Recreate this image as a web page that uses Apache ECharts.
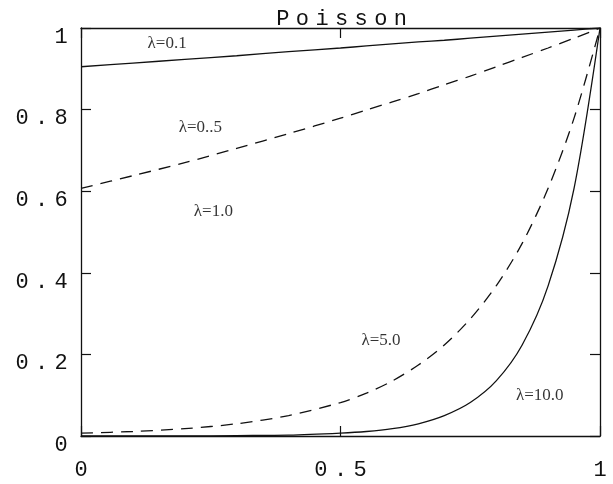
<!DOCTYPE html>
<html>
<head>
<meta charset="utf-8">
<script src="https://cdn.jsdelivr.net/npm/echarts@6/dist/echarts.min.js"></script>
<style>html,body{margin:0;padding:0;background:#fff}#c{width:613px;height:484px}</style>
</head>
<body>
<div id="c"></div>
<script>
// x positions (s) shared by all curves
const sValues = [0, 0.1, 0.2, 0.3, 0.4, 0.5, 0.55, 0.6, 0.65, 0.7, 0.75, 0.8, 0.85, 0.9, 0.95, 1];
// curve values
const lambda01 = [0.905, 0.914, 0.923, 0.932, 0.942, 0.951, 0.956, 0.961, 0.966, 0.970, 0.975, 0.980, 0.985, 0.990, 0.995, 1];
const lambda05 = [0.607, 0.638, 0.670, 0.705, 0.741, 0.779, 0.799, 0.819, 0.839, 0.861, 0.882, 0.905, 0.928, 0.951, 0.975, 1];
const lambda5  = [0.007, 0.011, 0.018, 0.030, 0.050, 0.082, 0.105, 0.135, 0.174, 0.223, 0.287, 0.368, 0.472, 0.607, 0.779, 1];
const lambda10 = [0.000, 0.000, 0.000, 0.001, 0.002, 0.007, 0.011, 0.018, 0.030, 0.050, 0.082, 0.135, 0.223, 0.368, 0.607, 1];
const seriesNames = ['λ=0.1', 'λ=0..5', 'λ=5.0', 'λ=10.0'];
// curve annotations: text, x, y (data coordinates)
const annoText = ['λ=0.1', 'λ=0..5', 'λ=1.0', 'λ=5.0', 'λ=10.0'];
const annoX = [0.166, 0.230, 0.255, 0.578, 0.884];
const annoY = [0.963, 0.755, 0.551, 0.235, 0.100];
const titleText = 'Poisson';
const xTicks = [0, 0.5, 1];
const yTicks = [0, 0.2, 0.4, 0.6, 0.8, 1];

function spaced(str) {
  return str.split('').map(ch => '{c|' + ch + '}').join('');
}
function fmt(v) {
  return spaced(String(Math.round(v * 10) / 10));
}
const mono = {c: {fontFamily: 'Liberation Mono', fontSize: 22, fontWeight: 'normal', width: 19.6, align: 'center', color: '#111'}};

const chart = echarts.init(document.getElementById('c'), null, {renderer: 'canvas'});
const pair = arr => sValues.map((s, i) => [s, arr[i]]);
const lineStyleSolid = {color: '#111', width: 1.3, type: 'solid'};
const lineStyleDash = {color: '#111', width: 1.3, type: [12, 8]};
const axisCommon = {
  type: 'value', min: 0, max: 1,
  axisLine: {show: true, onZero: false, lineStyle: {color: '#111', width: 1.3}},
  axisTick: {show: true, inside: true, length: 10, lineStyle: {color: '#111', width: 1.2}},
  splitLine: {show: false}
};
chart.setOption({
  animation: false,
  backgroundColor: '#fff',
  title: {
    text: spaced(titleText), left: 268, top: 3,
    textStyle: {fontWeight: 'normal', rich: mono}
  },
  grid: {left: 81, right: 13, top: 28, bottom: 48, containLabel: false},
  xAxis: [
    Object.assign({}, axisCommon, {position: 'bottom', interval: 0.5,
      axisLabel: {show: true, margin: 23, formatter: fmt, rich: mono}}),
    Object.assign({}, axisCommon, {position: 'top', interval: 0.5, axisLabel: {show: false}})
  ],
  yAxis: [
    Object.assign({}, axisCommon, {position: 'left', interval: 0.2,
      axisLabel: {show: true, margin: 10, padding: [18, 0, 0, 0], formatter: fmt, rich: mono}}),
    Object.assign({}, axisCommon, {position: 'right', interval: 0.2, axisLabel: {show: false}})
  ],
  series: [
    {name: seriesNames[0], type: 'line', data: pair(lambda01), showSymbol: false, smooth: 0.3, lineStyle: lineStyleSolid},
    {name: seriesNames[1], type: 'line', data: pair(lambda05), showSymbol: false, smooth: 0.3, lineStyle: lineStyleDash},
    {name: seriesNames[2], type: 'line', data: pair(lambda5), showSymbol: false, smooth: 0.3, lineStyle: lineStyleDash},
    {name: seriesNames[3], type: 'line', data: pair(lambda10), showSymbol: false, smooth: 0.3, lineStyle: lineStyleSolid},
    {type: 'scatter', symbolSize: 0, silent: true,
      data: annoText.map((t, i) => ({value: [annoX[i], annoY[i]], name: t})),
      label: {show: true, position: 'inside', formatter: p => p.name,
        fontFamily: 'Liberation Serif', fontSize: 17, color: '#000'}}
  ]
});
</script>
</body>
</html>
